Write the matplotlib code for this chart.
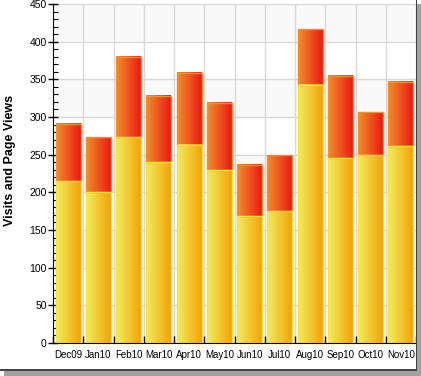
import matplotlib
matplotlib.use("Agg")
import matplotlib.pyplot as plt
import numpy as np
from matplotlib.colors import LinearSegmentedColormap
from matplotlib.patches import Rectangle
from matplotlib.ticker import MultipleLocator, FixedLocator

months = ["Dec09", "Jan10", "Feb10", "Mar10", "Apr10", "May10",
          "Jun10", "Jul10", "Aug10", "Sep10", "Oct10", "Nov10"]
page_views = [291, 273, 380, 328, 359, 319, 236, 249, 417, 355, 306, 346]
visits = [215, 200, 273, 240, 263, 229, 168, 175, 343, 245, 249, 261]

plt.rcParams['font.family'] = ['Liberation Sans', 'DejaVu Sans']

W, H = 421, 376
fig = plt.figure(figsize=(W / 100, H / 100), dpi=100)
fig.patch.set_facecolor('white')

# card shadow
fig.patches.append(Rectangle((417 / W, 0), 4 / W, 1 - 4 / H, transform=fig.transFigure,
                             facecolor='#a0a0a0', edgecolor='none', zorder=0))
fig.patches.append(Rectangle((4 / W, 0), 417 / W, 6 / H, transform=fig.transFigure,
                             facecolor='#a0a0a0', edgecolor='none', zorder=0))
fig.patches.append(Rectangle((416 / W, 6 / H), 1.2 / W, 1 - 6 / H, transform=fig.transFigure,
                             facecolor='#444444', edgecolor='none', zorder=1))
fig.patches.append(Rectangle((0, 5.5 / H), 417 / W, 1.2 / H, transform=fig.transFigure,
                             facecolor='#444444', edgecolor='none', zorder=1))

left, right, top, bottom = 53, 416, 4, 343
ax = fig.add_axes([left / W, (H - bottom) / H, (right - left) / W, (bottom - top) / H])
ax.set_facecolor('white')

n = len(months)

# alternating bands
for y0 in range(0, 450, 50):
    if (y0 // 50) % 2 == 0:
        ax.axhspan(y0, y0 + 50, facecolor='#f9f9f9', edgecolor='none', zorder=0)
for y0 in range(50, 451, 50):
    ax.axhline(y0, color='#d9d9d9', lw=1, zorder=0.5)
for i in range(n):
    ax.axvline(i + 0.5, color='#d9d9d9', lw=1, zorder=0.5)

yellow = LinearSegmentedColormap.from_list('y', ['#f0ec62', '#f3c830', '#f5a30a'])
red = LinearSegmentedColormap.from_list('r', ['#ef8e2c', '#ee5520', '#ee1812'])
grad = np.linspace(0, 1, 64).reshape(1, -1)

bw = 0.82
for i, (pv, vs) in enumerate(zip(page_views, visits)):
    x0, x1 = i - bw / 2, i + bw / 2
    ax.imshow(grad, cmap=red, extent=(x0, x1, vs, pv), aspect='auto',
              interpolation='bilinear', zorder=2)
    ax.add_patch(Rectangle((x0, vs), bw, pv - vs, facecolor='none',
                           edgecolor='#f3902a', lw=1, zorder=3))
    ax.imshow(grad, cmap=yellow, extent=(x0, x1, 0, vs), aspect='auto',
              interpolation='bilinear', zorder=2)
    ax.add_patch(Rectangle((x0, 0), bw, vs, facecolor='none',
                           edgecolor='#f9e436', lw=1, zorder=3))

ax.set_xlim(-0.5, n - 0.5)
ax.set_ylim(0, 450)

for s in ['top', 'right']:
    ax.spines[s].set_visible(False)
ax.spines['left'].set_color('black')
ax.spines['bottom'].set_color('black')
ax.spines['left'].set_zorder(5)
ax.spines['bottom'].set_zorder(5)

ax.yaxis.set_major_locator(MultipleLocator(50))
ax.yaxis.set_minor_locator(MultipleLocator(10))
ax.tick_params(axis='y', which='major', direction='inout', length=7, width=1,
               labelsize=7.5, pad=1)
ax.tick_params(axis='y', which='minor', direction='in', length=3.5, width=0.8)

ax.set_xticks(range(n))
ax.set_xticklabels(months)
ax.xaxis.set_minor_locator(FixedLocator([i + 0.5 for i in range(-1, n)]))
ax.tick_params(axis='x', which='major', length=0, labelsize=7, pad=5)
ax.tick_params(axis='x', which='minor', direction='in', length=5, width=1)

ax.set_ylabel('Visits and Page Views', fontsize=9, fontweight='bold')
ax.yaxis.set_label_coords(-37 / (right - left), 0.54)

fig.savefig('out.png', dpi=100)
